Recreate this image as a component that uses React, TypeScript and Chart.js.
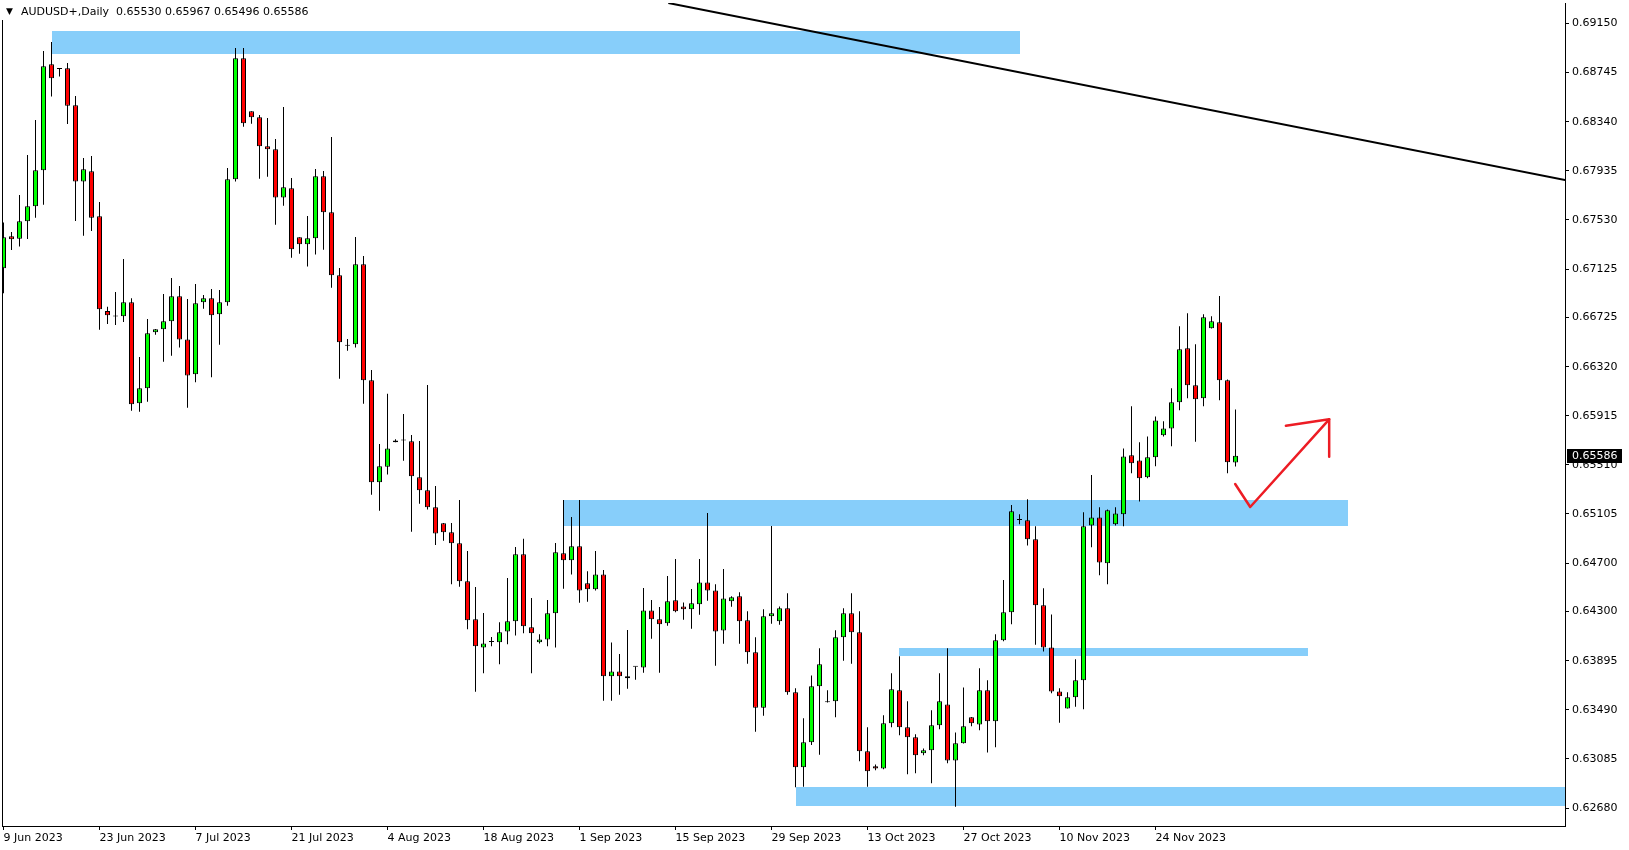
import React, { useEffect, useRef } from 'react';
import { Chart, registerables } from 'chart.js';

Chart.register(...registerables);

const symbolTitle = 'AUDUSD+,Daily';

const opens = [
  0.67131, 0.67395, 0.67375, 0.67519, 0.67642, 0.67939, 0.68813, 0.68778, 0.68780, 0.68475,
  0.67846, 0.67931, 0.67560, 0.66779, 0.66736, 0.66735, 0.66851, 0.66018, 0.66141, 0.66603,
  0.66628, 0.66694, 0.66900, 0.66545, 0.66257, 0.66851, 0.66884, 0.66752, 0.66851, 0.67865,
  0.68863, 0.68426, 0.68376, 0.68137, 0.68112, 0.67716, 0.67791, 0.67387, 0.67329, 0.67378,
  0.67890, 0.67593, 0.67073, 0.66493, 0.66504, 0.67164, 0.66207, 0.65366, 0.65494, 0.65696,
  0.65712, 0.65704, 0.65407, 0.65300, 0.65160, 0.65028, 0.64954, 0.64863, 0.64550, 0.64236,
  0.64005, 0.64049, 0.64047, 0.64137, 0.64220, 0.64772, 0.64170, 0.64047, 0.64071, 0.64286,
  0.64781, 0.64723, 0.64838, 0.64533, 0.64484, 0.64607, 0.63766, 0.63807, 0.63766, 0.63846,
  0.63840, 0.64310, 0.64236, 0.64203, 0.64393, 0.64343, 0.64319, 0.64360, 0.64541, 0.64475,
  0.64145, 0.64385, 0.64426, 0.64228, 0.63964, 0.63508, 0.64261, 0.64220, 0.64327, 0.63634,
  0.63016, 0.63222, 0.63684, 0.63552, 0.63560, 0.64088, 0.64286, 0.64129, 0.63148, 0.63024,
  0.63007, 0.63379, 0.63651, 0.63346, 0.63263, 0.63131, 0.63156, 0.63362, 0.63535, 0.63073,
  0.63214, 0.63428, 0.63370, 0.63651, 0.63395, 0.64063, 0.64294, 0.65055, 0.65053, 0.64896,
  0.64352, 0.64005, 0.63642, 0.63502, 0.63593, 0.63733, 0.65011, 0.65077, 0.64698, 0.65020,
  0.65102, 0.65589, 0.65547, 0.65407, 0.65572, 0.65754, 0.65811, 0.66026, 0.66471, 0.66166,
  0.66059, 0.66636, 0.66686, 0.66207, 0.65530
];

const highs = [
  0.67508, 0.67430, 0.67736, 0.68066, 0.68354, 0.68923, 0.68997, 0.68780, 0.68824, 0.68552,
  0.68041, 0.68057, 0.67678, 0.66815, 0.66936, 0.67208, 0.66884, 0.66400, 0.66713, 0.66630,
  0.66919, 0.67051, 0.66985, 0.66878, 0.67002, 0.66911, 0.66960, 0.66952, 0.67958, 0.68948,
  0.68948, 0.68427, 0.68395, 0.68371, 0.68198, 0.68461, 0.67876, 0.67388, 0.67563, 0.67950,
  0.67934, 0.68214, 0.67134, 0.66548, 0.67389, 0.67233, 0.66292, 0.65682, 0.66096, 0.65721,
  0.65930, 0.65756, 0.65707, 0.66169, 0.65336, 0.65030, 0.65031, 0.65220, 0.64800, 0.64503,
  0.64288, 0.64091, 0.64212, 0.64577, 0.64833, 0.64900, 0.64412, 0.64113, 0.64396, 0.64866,
  0.65220, 0.65080, 0.65220, 0.64632, 0.64800, 0.64643, 0.64046, 0.63950, 0.64148, 0.63847,
  0.64495, 0.64396, 0.64338, 0.64594, 0.64734, 0.64376, 0.64486, 0.64734, 0.65113, 0.64525,
  0.64651, 0.64426, 0.64459, 0.64302, 0.64088, 0.64319, 0.65006, 0.64343, 0.64451, 0.63667,
  0.63420, 0.63774, 0.63997, 0.63651, 0.64146, 0.64327, 0.64451, 0.64302, 0.63346, 0.63040,
  0.63445, 0.63791, 0.63931, 0.63560, 0.63288, 0.63172, 0.63486, 0.63791, 0.63997, 0.63304,
  0.63675, 0.63430, 0.63832, 0.63733, 0.64113, 0.64560, 0.65179, 0.65102, 0.65226, 0.65003,
  0.64492, 0.64277, 0.63667, 0.63634, 0.63907, 0.65119, 0.65427, 0.65160, 0.65143, 0.65160,
  0.65646, 0.65994, 0.65696, 0.65745, 0.65910, 0.65869, 0.66141, 0.66653, 0.66760, 0.66504,
  0.66752, 0.66735, 0.66903, 0.66215, 0.65967
];

const lows = [
  0.66925, 0.67282, 0.67310, 0.67373, 0.67549, 0.67656, 0.68547, 0.68712, 0.68321, 0.67521,
  0.67400, 0.67439, 0.66625, 0.66672, 0.66664, 0.66688, 0.65957, 0.65949, 0.66031, 0.66584,
  0.66361, 0.66411, 0.66477, 0.65982, 0.66191, 0.66798, 0.66232, 0.66501, 0.66823, 0.67846,
  0.68299, 0.68324, 0.67870, 0.67887, 0.67491, 0.67648, 0.67219, 0.67252, 0.67145, 0.67244,
  0.67285, 0.66971, 0.66221, 0.66452, 0.66477, 0.66015, 0.65264, 0.65132, 0.65431, 0.65696,
  0.65545, 0.64959, 0.65190, 0.65143, 0.64849, 0.64885, 0.64525, 0.64506, 0.64154, 0.63640,
  0.63791, 0.64014, 0.63865, 0.64030, 0.64104, 0.64121, 0.63791, 0.64038, 0.64014, 0.64005,
  0.64489, 0.64607, 0.64374, 0.64382, 0.64475, 0.63565, 0.63565, 0.63615, 0.63664, 0.63739,
  0.63796, 0.64077, 0.63796, 0.64184, 0.64294, 0.64233, 0.64159, 0.64275, 0.64390, 0.63854,
  0.64035, 0.64341, 0.64035, 0.63871, 0.63310, 0.63442, 0.64200, 0.64192, 0.63615, 0.62851,
  0.62856, 0.63200, 0.63120, 0.63550, 0.63428, 0.63895, 0.63871, 0.63065, 0.62856, 0.62991,
  0.62999, 0.63346, 0.63280, 0.62958, 0.62966, 0.63115, 0.62884, 0.63329, 0.63049, 0.62691,
  0.63213, 0.63354, 0.63321, 0.63139, 0.63181, 0.64055, 0.64195, 0.65020, 0.64846, 0.64027,
  0.63972, 0.63626, 0.63384, 0.63501, 0.63516, 0.63494, 0.64830, 0.64599, 0.64525, 0.65011,
  0.65003, 0.65440, 0.65209, 0.65399, 0.65498, 0.65745, 0.65663, 0.65960, 0.66059, 0.65701,
  0.65993, 0.66635, 0.66042, 0.65440, 0.65496
];

const closes = [
  0.67387, 0.67370, 0.67519, 0.67642, 0.67939, 0.68797, 0.68698, 0.68775, 0.68472, 0.67846,
  0.67947, 0.67549, 0.66793, 0.66743, 0.66734, 0.66851, 0.66009, 0.66141, 0.66595, 0.66628,
  0.66694, 0.66900, 0.66545, 0.66248, 0.66842, 0.66884, 0.66743, 0.66851, 0.67865, 0.68863,
  0.68327, 0.68376, 0.68137, 0.68112, 0.67716, 0.67799, 0.67288, 0.67329, 0.67378, 0.67890,
  0.67593, 0.67073, 0.66521, 0.66492, 0.67164, 0.66207, 0.65366, 0.65498, 0.65646, 0.65712,
  0.65711, 0.65416, 0.65300, 0.65160, 0.64945, 0.64954, 0.64863, 0.64550, 0.64228, 0.64014,
  0.64038, 0.64050, 0.64129, 0.64220, 0.64772, 0.64179, 0.64121, 0.64071, 0.64286, 0.64789,
  0.64723, 0.64838, 0.64475, 0.64484, 0.64607, 0.63766, 0.63807, 0.63766, 0.63750, 0.63845,
  0.64310, 0.64236, 0.64195, 0.64385, 0.64302, 0.64319, 0.64368, 0.64541, 0.64475, 0.64137,
  0.64409, 0.64418, 0.64220, 0.63964, 0.63508, 0.64261, 0.64286, 0.64327, 0.63634, 0.63016,
  0.63222, 0.63684, 0.63865, 0.63553, 0.64088, 0.64286, 0.64129, 0.63148, 0.62983, 0.63007,
  0.63379, 0.63659, 0.63346, 0.63263, 0.63115, 0.63156, 0.63362, 0.63560, 0.63073, 0.63214,
  0.63354, 0.63379, 0.63651, 0.63395, 0.64063, 0.64294, 0.65127, 0.65056, 0.64896, 0.64352,
  0.64005, 0.63642, 0.63601, 0.63593, 0.63733, 0.65003, 0.65077, 0.64706, 0.65135, 0.65110,
  0.65580, 0.65523, 0.65399, 0.65572, 0.65877, 0.65811, 0.66026, 0.66463, 0.66166, 0.66051,
  0.66727, 0.66694, 0.66207, 0.65531, 0.65586
];

const xTickBars = [0, 12, 24, 36, 48, 60, 72, 84, 96, 108, 120, 132, 144];
const xTickLabels = [
  '9 Jun 2023', '23 Jun 2023', '7 Jul 2023', '21 Jul 2023', '4 Aug 2023', '18 Aug 2023',
  '1 Sep 2023', '15 Sep 2023', '29 Sep 2023', '13 Oct 2023', '27 Oct 2023', '10 Nov 2023', '24 Nov 2023'
];
const yTickValues = [
  0.69150, 0.68745, 0.68340, 0.67935, 0.67530, 0.67125, 0.66725, 0.66320, 0.65915,
  0.65510, 0.65105, 0.64700, 0.64300, 0.63895, 0.63490, 0.63085, 0.62680
];
const yMin = 0.62532;
const yMax = 0.69319;
const xMin = -0.1875;
const xMax = 195.1875;

// support / resistance zones (bar index range, price range)
const zoneStart = [6, 70, 112, 99];
const zoneEnd = [127, 168, 163, 220];
const zoneTop = [0.69088, 0.65220, 0.63999, 0.62853];
const zoneBottom = [0.68898, 0.65008, 0.63936, 0.62699];

// trend line
const trendX = [83.1, 195.2];
const trendY = [0.69319, 0.67859];

// hand drawn red arrow
const arrowX = [153.96, 155.84, 165.71, 165.71];
const arrowY = [0.65352, 0.65163, 0.65886, 0.65577];
const arrowHeadX = [160.3, 165.71];
const arrowHeadY = [0.65833, 0.65886];

const FONT = "'DejaVu Sans', Verdana, sans-serif";

const overlayPlugin = {
  id: 'mtOverlay',
  beforeDatasetsDraw(chart: any) {
    const { ctx, chartArea, scales } = chart;
    const xs = scales.x;
    const ys = scales.y;
    ctx.save();
    ctx.beginPath();
    ctx.rect(chartArea.left, chartArea.top, chartArea.right - chartArea.left, chartArea.bottom - chartArea.top);
    ctx.clip();
    ctx.fillStyle = '#87CEFA';
    for (let i = 0; i < zoneStart.length; i++) {
      const x1 = xs.getPixelForValue(zoneStart[i]);
      const x2 = xs.getPixelForValue(zoneEnd[i]);
      const y1 = ys.getPixelForValue(zoneTop[i]);
      const y2 = ys.getPixelForValue(zoneBottom[i]);
      ctx.fillRect(Math.round(x1), Math.round(y1), Math.round(x2) - Math.round(x1), Math.round(y2) - Math.round(y1));
    }
    ctx.restore();
  },
  afterDraw(chart: any) {
    const { ctx, chartArea, scales } = chart;
    const ys = scales.y;
    ctx.save();
    // left frame line
    ctx.strokeStyle = '#000';
    ctx.lineWidth = 1;
    ctx.beginPath();
    ctx.moveTo(chartArea.left + 0.5, 20);
    ctx.lineTo(chartArea.left + 0.5, chartArea.bottom);
    ctx.stroke();

    // header
    const last = closes.length - 1;
    ctx.fillStyle = '#000';
    ctx.font = `9px ${FONT}`;
    ctx.textBaseline = 'middle';
    ctx.textAlign = 'left';
    ctx.fillText('\u25BC', 6, 12);
    ctx.font = `11px ${FONT}`;
    const hdr = `${symbolTitle}  ${opens[last].toFixed(5)} ${highs[last].toFixed(5)} ${lows[last].toFixed(5)} ${closes[last].toFixed(5)}`;
    ctx.fillText(hdr, 21, 12.5);

    // current price label
    const py = ys.getPixelForValue(closes[last]);
    ctx.fillStyle = '#000';
    ctx.fillRect(chartArea.right + 2, Math.round(py) - 7, 55, 14);
    ctx.fillStyle = '#fff';
    ctx.fillText(closes[last].toFixed(5), chartArea.right + 7, Math.round(py) + 0.5);
    ctx.restore();
  }
};

export default function App() {
  const ref = useRef<HTMLCanvasElement | null>(null);

  useEffect(() => {
    document.body.style.margin = '0';
    const canvas = ref.current;
    if (!canvas) return;
    const bodyColors = opens.map((o, i) => (closes[i] >= o ? '#00FF00' : '#FF0000'));
    const chart = new Chart(canvas, {
      type: 'bar',
      data: {
        datasets: [
          {
            type: 'line',
            label: 'trend',
            data: trendX.map((x, i) => ({ x, y: trendY[i] })),
            borderColor: '#000',
            borderWidth: 2,
            pointRadius: 0,
            order: 0,
          } as any,
          {
            type: 'line',
            label: 'arrow',
            data: arrowX.map((x, i) => ({ x, y: arrowY[i] })),
            borderColor: '#ED1C24',
            borderWidth: 2.5,
            pointRadius: 0,
            borderJoinStyle: 'round',
            borderCapStyle: 'round',
            order: 0,
          } as any,
          {
            type: 'line',
            label: 'arrowHead',
            data: arrowHeadX.map((x, i) => ({ x, y: arrowHeadY[i] })),
            borderColor: '#ED1C24',
            borderWidth: 2.5,
            pointRadius: 0,
            borderCapStyle: 'round',
            order: 0,
          } as any,
          {
            type: 'bar',
            label: 'body',
            data: opens.map((o, i) => ({ x: i, y: [o, closes[i]] })),
            backgroundColor: bodyColors,
            borderColor: '#000',
            borderWidth: 1,
            borderSkipped: false,
            barThickness: 5,
            grouped: false,
            minBarLength: 1,
            inflateAmount: 0,
            order: 1,
          } as any,
          {
            type: 'bar',
            label: 'wick',
            data: lows.map((l, i) => ({ x: i, y: [l, highs[i]] })),
            backgroundColor: '#000',
            borderWidth: 0,
            barThickness: 1,
            grouped: false,
            inflateAmount: 0,
            order: 2,
          } as any,
        ],
      },
      options: {
        animation: false,
        responsive: false,
        devicePixelRatio: 1,
        layout: { padding: { left: 2, top: 3, right: 0, bottom: 0 } },
        plugins: { legend: { display: false }, tooltip: { enabled: false } },
        scales: {
          x: {
            type: 'linear',
            min: xMin,
            max: xMax,
            offset: false,
            grid: { display: true, drawOnChartArea: false, drawTicks: true, tickLength: 4, color: '#000', offset: false },
            border: { display: true, color: '#000', width: 1 },
            ticks: {
              autoSkip: false,
              maxRotation: 0,
              minRotation: 0,
              align: 'start',
              padding: 2,
              color: '#000',
              font: { family: FONT, size: 11 },
              callback: (_v: any, i: number) => xTickLabels[i],
            },
            afterBuildTicks: (s: any) => {
              s.ticks = xTickBars.map((v) => ({ value: v }));
            },
            afterFit: (s: any) => {
              s.height = 24;
              s.paddingLeft = 0;
              s.paddingRight = 0;
            },
          },
          y: {
            type: 'linear',
            position: 'right',
            min: yMin,
            max: yMax,
            grid: { display: true, drawOnChartArea: false, tickLength: 4, color: '#000' },
            border: { display: true, color: '#000', width: 1 },
            ticks: {
              padding: 3,
              color: '#000',
              font: { family: FONT, size: 11 },
              callback: (v: any) => Number(v).toFixed(5),
            },
            afterBuildTicks: (s: any) => {
              s.ticks = yTickValues.map((v) => ({ value: v }));
            },
            afterFit: (s: any) => {
              s.width = 64;
              s.paddingTop = 0;
              s.paddingBottom = 0;
            },
          },
        },
      } as any,
      plugins: [overlayPlugin],
    });
    return () => chart.destroy();
  }, []);

  return (
    <div style={{ width: 1629, height: 850, background: '#fff' }}>
      <canvas ref={ref} width={1629} height={850} style={{ display: 'block' }} />
    </div>
  );
}
